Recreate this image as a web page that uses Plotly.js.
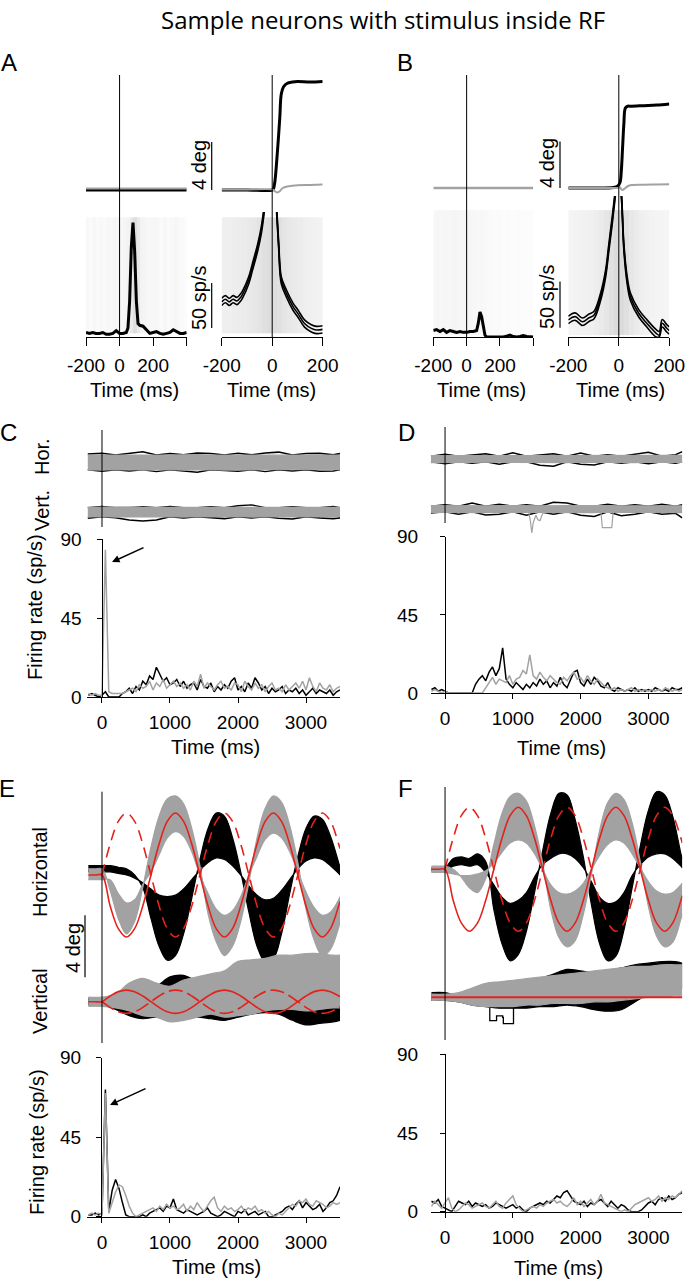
<!DOCTYPE html>
<html><head><meta charset="utf-8">
<script src="https://cdn.plot.ly/plotly-3.0.1.min.js"></script>
<style>html,body{margin:0;padding:0;background:#fff}#chart{width:687px;height:1280px}</style>
</head><body><div id="chart"></div>
<script>
// ---------------- DATA ----------------
// Panels A/B: peri-saccadic eye position (deg) and PSTH (sp/s)
const tEyeAL = [-200, 400];
const blackEyeAL = [0, 0];
const grayEyeAL = [0.12, 0.12];
const tEyeAR = [-200,-100,0,5,10,20,30,36,45,60,80,100,150,200];
const blackEyeAR = [0,0,0,0.1,0.6,3.0,6.0,8.0,8.6,8.9,9.0,9.05,9.0,9.05];
const grayEyeAR = [0.05,0.05,0.05,0,-0.1,-0.2,-0.1,0.05,0.2,0.3,0.35,0.4,0.42,0.45];
const tEyeBL = [-200, 400];
const grayEyeBL = [0, 0];
const tEyeBR = [-200,-100,-20,-5,5,10,15,20,26,35,50,100,150,200];
const blackEyeBR = [0,0,0.05,0.15,0.5,1.5,3.5,5.5,6.9,7.05,7.05,7.1,7.15,7.25];
const grayEyeBR = [0,0,0,0,0.05,-0.1,-0.17,-0.1,0,0.15,0.25,0.28,0.3,0.32];

const tAL = [-200,-180,-160,-140,-120,-100,-80,-60,-40,-20,0,20,40,50,60,70,80,90,100,110,120,140,160,180,200,220,240,260,280,300,320,340,360,380,400];
const rateAL = [5,4,5,4,4,5,3,3,4,7,4,4,5,10,40,100,127,95,40,15,13,12,8,4,5,6,4,3,4,5,8,6,4,4,5];
const tAR = [-200,-185,-170,-155,-140,-125,-118,-93,-78,-57,-43,-33,-20,0,10,18,26,36,56,82,102,128,155,175,200];
const rateAR = [39,42,39,42,40,44,47,63,78,100,119,139,175,210,180,139,100,63,48.5,34,26,15,9.6,7.8,8.5];
const rateARhi = [43,46,43,46,44,48,51,67,82,104,123,143,179,214,184,143,104,67,52.5,38,30,19,13.6,11.8,12.5];
const rateARlo = [35,38,35,38,36,40,43,59,74,96,115,135,171,206,176,135,96,59,44.5,30,22,11,5.6,3.8,4.5];
const tBL = [-200,-180,-160,-140,-120,-100,-80,-60,-40,-20,0,20,40,60,70,80,90,100,110,120,140,160,180,200,220,240,260,280,300,320,340,360,380,400];
const rateBL = [7,8,6,8,5,7,6,5,6,5,5,6,6,7,15,27,22,10,2,0,0,0,0,0.5,0,1,2,0.5,0,0.5,1.5,0.5,0,0];
const tBR = [-200,-173,-144,-118,-98,-72,-52,-39,-26,-16,0,11,20,33,46,79,111,148,160,172,190,200];
const rateBR = [18.4,22,16.5,20.8,23.8,43.5,68.8,97.5,126,150,185,150,97.5,61.6,43.5,25.6,14.8,4,2,14.8,9.4,7];
const rateBRhi = [22.4,26,20.5,24.8,27.8,47.5,72.8,101.5,130,154,189,154,101.5,65.6,47.5,29.6,18.8,8,6,18.8,13.4,11];
const rateBRlo = [14.4,18,12.5,16.8,19.8,39.5,64.8,93.5,122,146,181,146,93.5,57.6,39.5,21.6,10.8,0,0,10.8,5.4,3];

// raster density (spike dots) per 20 ms bin
const rasterEdgesLong = [-200,-180,-160,-140,-120,-100,-80,-60,-40,-20,0,20,40,60,80,100,120,140,160,180,200,220,240,260,280,300,320,340,360,380,400];
const rasterEdgesShort = [-200,-180,-160,-140,-120,-100,-80,-60,-40,-20,0,20,40,60,80,100,120,140,160,180,200];
const rasterRowsA = [4.4, 133];
const rasterRowsB = [2.2, 137];
const rasterAL = [0.12,0.1,0.14,0.1,0.12,0.1,0.14,0.12,0.16,0.14,0.14,0.18,0.22,0.4,0.6,0.4,0.22,0.18,0.14,0.14,0.16,0.12,0.1,0.14,0.1,0.12,0.16,0.12,0.1,0.08];
const rasterAR = [0.3,0.3,0.32,0.34,0.36,0.4,0.44,0.5,0.56,0.62,0.62,0.56,0.48,0.42,0.38,0.34,0.3,0.28,0.26,0.24];
const rasterBL = [0.14,0.16,0.14,0.16,0.14,0.16,0.18,0.16,0.14,0.16,0.18,0.16,0.14,0.12,0.14,0.12,0.1,0.1,0.08,0.1,0.08,0.06,0.08,0.06,0.06,0.08,0.06,0.06,0.05,0.05];
const rasterBR = [0.2,0.22,0.24,0.26,0.28,0.32,0.38,0.46,0.56,0.66,0.66,0.56,0.44,0.36,0.3,0.26,0.22,0.2,0.2,0.18];

// Panels C/D: fixation eye traces (deg, around each trace's mean)
const tCD = [-210,0,200,400,600,800,1000,1200,1400,1600,1800,2000,2200,2400,2600,2800,3000,3200,3400,3500];
const grayUpCH = [0.45,0.46,0.45,0.47,0.45,0.44,0.46,0.45,0.47,0.45,0.44,0.45,0.46,0.45,0.44,0.45,0.46,0.45,0.44,0.45];
const grayLoCH = [-0.52,-0.5,-0.52,-0.5,-0.52,-0.5,-0.5,-0.52,-0.5,-0.5,-0.52,-0.5,-0.52,-0.5,-0.5,-0.52,-0.5,-0.5,-0.52,-0.5];
const blackUpCH = [0.52,0.56,0.45,0.56,0.66,0.45,0.55,0.46,0.58,0.55,0.45,0.56,0.46,0.58,0.64,0.45,0.55,0.56,0.46,0.54];
const blackLoCH = [-0.5,-0.6,-0.5,-0.58,-0.5,-0.62,-0.5,-0.58,-0.66,-0.5,-0.57,-0.6,-0.5,-0.62,-0.5,-0.58,-0.5,-0.6,-0.58,-0.5];
const grayUpCV = [0.3,0.32,0.3,0.33,0.3,0.3,0.32,0.3,0.33,0.3,0.3,0.32,0.3,0.3,0.33,0.3,0.32,0.3,0.3,0.3];
const grayLoCV = [-0.32,-0.3,-0.33,-0.3,-0.32,-0.3,-0.3,-0.33,-0.3,-0.32,-0.3,-0.3,-0.33,-0.3,-0.3,-0.32,-0.3,-0.3,-0.33,-0.3];
const blackUpCV = [0.28,0.36,0.28,0.28,0.35,0.28,0.36,0.28,0.28,0.34,0.28,0.4,0.46,0.28,0.28,0.35,0.28,0.28,0.36,0.28];
const blackLoCV = [-0.4,-0.3,-0.37,-0.52,-0.58,-0.52,-0.3,-0.38,-0.3,-0.37,-0.43,-0.3,-0.38,-0.3,-0.4,-0.45,-0.3,-0.38,-0.44,-0.38];
const grayUpDH = [0.22,0.22,0.21,0.23,0.22,0.21,0.22,0.21,0.23,0.22,0.21,0.22,0.21,0.23,0.22,0.21,0.22,0.21,0.22,0.23];
const grayLoDH = [-0.23,-0.22,-0.21,-0.23,-0.22,-0.21,-0.22,-0.23,-0.21,-0.22,-0.23,-0.21,-0.22,-0.21,-0.22,-0.23,-0.21,-0.22,-0.21,-0.22];
const blackUpDH = [0.18,0.3,0.18,0.28,0.34,0.18,0.4,0.18,0.28,0.34,0.18,0.38,0.18,0.28,0.18,0.3,0.44,0.18,0.28,0.48];
const blackLoDH = [-0.18,-0.3,-0.18,-0.28,-0.18,-0.34,-0.18,-0.18,-0.4,-0.46,-0.18,-0.34,-0.38,-0.18,-0.28,-0.18,-0.3,-0.18,-0.28,-0.18];
const grayUpDV = [0.22,0.21,0.22,0.23,0.21,0.22,0.21,0.23,0.22,0.21,0.22,0.23,0.21,0.22,0.21,0.22,0.23,0.21,0.22,0.21];
const grayLoDV = [-0.22,-0.23,-0.21,-0.22,-0.23,-0.21,-0.22,-0.21,-0.23,-0.22,-0.21,-0.22,-0.23,-0.21,-0.22,-0.21,-0.23,-0.22,-0.21,-0.23];
const blackUpDV = [0.18,0.28,0.18,0.38,0.18,0.3,0.18,0.28,0.18,0.43,0.38,0.18,0.18,0.3,0.18,0.28,0.18,0.3,0.18,0.28];
const blackLoDV = [-0.26,-0.18,-0.34,-0.18,-0.38,-0.34,-0.18,-0.4,-0.18,-0.34,-0.18,-0.4,-0.48,-0.18,-0.44,-0.34,-0.18,-0.34,-0.28,-0.58];
const tDipD = [1230,1260,1280,1300,1340,1370,1400,1430,1470,1850,2250,2300,2320,2460,2480,2530];
const vDipD = [-0.1,-0.8,-1.55,-0.9,-0.4,-0.7,-0.75,-0.4,-0.1,null,-0.1,-0.2,-1.2,-1.2,-0.2,-0.1];

// Firing rates (sp/s), 50 ms bins
const tFR = [-200,-150,-100,-50,0,50,100,150,200,250,300,350,400,450,500,550,600,650,700,750,800,850,900,950,1000,1050,1100,1150,1200,1250,1300,1350,1400,1450,1500,1550,1600,1650,1700,1750,1800,1850,1900,1950,2000,2050,2100,2150,2200,2250,2300,2350,2400,2450,2500,2550,2600,2650,2700,2750,2800,2850,2900,2950,3000,3050,3100,3150,3200,3250,3300,3350,3400,3450,3500];
const frCblack = [1,2,1,0,1,3,0,0,0,0, 2,3,5,2,6,4,9,7,12,10, 17,13,9,11,7,8,10,6,9,5, 7,8,4,10,6,5,8,3,6,4, 7,5,9,11,4,6,3,8,5,11, 8,4,6,2,5,3,4,6,2,4, 3,5,2,4,1,3,5,2,4,3, 2,4,1,3,4];
const frCgray = [2,1,2,1,1,84,3,2,2,2, 2,3,4,5,3,7,5,6,9,4, 8,6,10,5,7,9,6,8,5,7, 4,9,6,13,5,8,6,4,7,9, 5,6,4,8,7,3,9,6,4,8, 5,7,3,6,8,4,5,3,7,4, 6,8,5,9,4,11,6,3,8,5, 4,7,3,5,6];
const frDblack = [2,3,1,2,1,0,0,0,0,0, 0,0,0,5,8,10,7,12,15,10, 14,26,8,5,3,6,4,2,5,3, 6,4,8,5,7,3,6,4,9,5, 3,8,12,13,6,4,8,5,9,7, 4,3,6,2,1,3,2,1,2,1, 3,1,2,1,2,1,3,2,1,2, 1,3,2,2,3];
const frDgray = [1,2,1,0,1,0,0,0,0,0, 0,0,0,0,0,0,3,6,9,5, 8,7,6,10,5,8,9,13,11,22, 10,8,12,9,7,10,8,6,5,9, 7,10,12,8,9,6,10,7,5,8, 6,4,3,2,3,1,2,1,2,3, 1,2,1,2,1,2,1,2,1,3, 2,1,2,1,2];
const frEblack = [1,1,2,1,2,72,3,15,21,16, 8,1,0,0,0,0,1,0,2,3, 4,5,3,6,5,10,4,3,2,4, 3,2,1,2,3,5,2,1,0,1, 3,2,1,0,3,2,4,1,2,3, 1,2,3,0,0,1,2,3,5,6, 4,7,9,5,8,6,4,5,7,3, 5,8,9,12,17];
const frEgray = [1,2,1,2,1,70,2,8,14,18, 17,12,6,2,0,1,2,3,4,5, 3,6,4,7,5,6,4,5,7,3, 6,4,8,5,3,6,9,11,5,3, 6,4,5,3,4,6,3,5,4,6, 3,4,2,3,1,0,2,1,3,5, 7,6,9,8,10,7,6,9,8,7, 5,6,8,7,8];
const frFblack = [6,5,7,3,2,1,0,3,6,5, 4,6,3,5,4,3,4,2,3,5, 4,3,2,3,4,2,3,1,0,2, 3,4,5,4,6,5,7,9,8,11, 12,9,6,5,4,6,3,5,4,6, 7,5,3,6,4,2,4,3,1,0, 0,0,1,3,5,6,4,7,8,6, 9,7,8,10,11];
const frFgray = [3,6,4,2,5,8,2,0,1,3, 5,4,2,3,4,5,3,2,4,6, 3,2,5,7,9,4,2,0,1,2, 3,2,4,3,5,6,7,5,6,4, 3,5,8,4,6,3,5,7,4,6, 10,5,4,3,2,1,0,1,0,2, 4,5,6,7,8,6,7,9,6,8, 7,9,8,10,12];

// Panels E/F: pursuit eye traces (deg)
const tEye = [-200,-100,0,120,240,360,480,600,720,840,960,1080,1200,1320,1440,1560,1680,1800,1920,2040,2160,2280,2400,2520,2640,2760,2880,3000,3120,3240,3360,3480,3500];
const targetSolidH = [0,0,0,-2,-3.46,-4,-3.46,-2,0,2,3.46,4,3.46,2,0,-2,-3.46,-4,-3.46,-2,0,2,3.46,4,3.46,2,0,-2,-3.46,-4,-3.46,-2,-1.7];
const targetDashH = [null,null,0,2,3.46,4,3.46,2,0,-2,-3.46,-4,-3.46,-2,0,2,3.46,4,3.46,2,0,-2,-3.46,-4,-3.46,-2,0,2,3.46,4,3.46,2,1.7];
const targetSolidV = [0,0,0,0.37,0.65,0.75,0.65,0.37,0,-0.37,-0.65,-0.75,-0.65,-0.37,0,0.37,0.65,0.75,0.65,0.37,0,-0.37,-0.65,-0.75,-0.65,-0.37,0,0.37,0.65,0.75,0.65,0.37,0.32];
const targetDashV = [null,null,0,-0.37,-0.65,-0.75,-0.65,-0.37,0,0.37,0.65,0.75,0.65,0.37,0,-0.37,-0.65,-0.75,-0.65,-0.37,0,0.37,0.65,0.75,0.65,0.37,0,-0.37,-0.65,-0.75,-0.65,-0.37,-0.32];
const tTargetFlat = [-200, 3500];
const targetFlatV = [0, 0];
const grayOuterEH = [0.4,0.4,0.4,-1.0,-2.8,-3.8,-3.0,-0.8,1.8,3.8,4.9,5.1,4.6,3.0,0.6,-2.5,-4.3,-5.2,-4.6,-3.0,-0.5,2.4,4.3,5.1,4.7,3.2,0.8,-2.2,-4.2,-5.2,-4.8,-3.4,-3.1];
const grayInnerEH = [-0.3,-0.3,-0.3,-0.3,-1.2,-1.8,-1.6,-0.6,0.2,1.3,2.4,2.8,2.5,1.5,0,-1.2,-2.2,-2.6,-2.3,-1.4,0,1.2,2.3,2.7,2.4,1.5,0.2,-1.1,-2.1,-2.6,-2.4,-1.6,-1.4];
const blackOuterEH = [0.6,0.6,0.6,0.6,0.5,0.4,0,-0.8,-2.8,-4.6,-5.5,-5.2,-3.8,-1.5,1.0,3.0,4.0,3.8,2.4,0.2,-2.4,-4.6,-5.6,-5.4,-3.8,-1.2,1.2,3.0,3.8,3.6,2.5,0.8,0.5];
const blackInnerEH = [0.2,0.2,0.2,0.2,0.1,0,-0.2,-0.5,-0.9,-1.3,-1.4,-1.3,-0.9,-0.3,0.3,0.8,1.1,1.0,0.6,0,-0.7,-1.3,-1.6,-1.5,-1.0,-0.3,0.4,0.9,1.1,1.0,0.6,0.1,0];
const grayOuterFH = [0.2,0.2,0.2,0,-0.5,-1.2,-1.5,-0.6,1.6,3.6,4.7,4.9,4.4,2.8,0.4,-2.6,-4.4,-5.0,-4.6,-2.9,-0.3,2.5,4.3,4.9,4.5,3.0,0.5,-2.4,-4.3,-5.0,-4.7,-3.2,-2.9];
const grayInnerFH = [-0.2,-0.2,-0.2,-0.3,-0.4,-0.4,-0.3,-0.1,0.4,1.1,1.7,1.9,1.7,1.0,0,-1.0,-1.5,-1.6,-1.4,-0.9,0,0.9,1.6,1.9,1.7,1.0,0.1,-0.8,-1.4,-1.6,-1.5,-1.0,-0.9];
const blackOuterFH = [0.1,0.1,0.1,0.7,0.8,0.7,1.0,0.5,-2.6,-4.8,-5.9,-5.5,-4.0,-1.5,1.2,3.6,4.9,4.8,3.2,0.8,-2.3,-4.8,-5.9,-5.6,-3.9,-1.2,1.5,3.8,5.0,4.8,3.4,1.0,0.7];
const blackInnerFH = [-0.1,-0.1,-0.1,0.2,0.3,0.2,0.3,-0.2,-1.0,-1.8,-2.2,-2.0,-1.5,-0.5,0.3,0.7,1.0,1.0,0.7,0.1,-0.8,-1.8,-2.2,-2.1,-1.5,-0.4,0.3,0.8,1.0,1.0,0.7,0.2,0.1];
const tV = [-200,0,200,400,600,800,1000,1200,1400,1600,1800,2000,2200,2400,2600,2800,3000,3200,3400,3500];
const grayUpEV = [0.3,0.3,0.5,1.2,1.5,1.2,1.0,1.4,1.6,1.8,2.0,2.6,2.7,2.8,3.0,3.0,3.1,3.1,3.0,3.0];
const grayLoEV = [-0.3,-0.3,-0.4,-0.6,-0.9,-1.0,-1.3,-1.2,-1.0,-0.8,-1.0,-0.9,-0.8,-0.6,-0.5,-0.5,-0.6,-0.5,-0.4,-0.4];
const blackUpEV = [0.2,0.2,0.3,0.5,0.8,1.0,1.6,1.7,1.3,1.0,1.5,2.3,2.6,2.2,1.0,0.4,0.2,0,0.2,0.3];
const blackLoEV = [-0.2,-0.2,-0.5,-0.9,-1.1,-1.0,-1.2,-1.1,-1.0,-1.1,-1.2,-1.0,-0.8,-0.7,-0.8,-1.2,-1.5,-1.4,-1.3,-1.2];
const grayUpFV = [0.2,0.2,0.3,0.6,0.9,1.0,1.1,1.2,1.3,1.4,1.5,1.6,1.7,1.8,1.9,2.0,2.0,2.1,2.1,2.1];
const grayLoFV = [-0.2,-0.2,-0.3,-0.5,-0.6,-0.6,-0.6,-0.5,-0.5,-0.4,-0.4,-0.4,-0.3,-0.3,-0.2,-0.1,0,0,0.1,0.1];
const blackUpFV = [0.3,0.3,0.1,0.3,0.5,0.6,0.8,1.0,1.2,1.5,1.8,1.7,1.6,1.7,1.9,2.1,2.2,2.3,2.3,2.2];
const blackLoFV = [-0.2,-0.2,-0.3,-0.5,-0.6,-0.7,-0.7,-0.7,-0.6,-0.6,-0.5,-0.6,-0.8,-0.9,-0.8,-0.3,0.2,0.5,0.6,0.6];
const tBoxF = [600,650,660,750,760,800,850,860,1000,1010,1050];
const vBoxF = [-0.4,-0.5,-1.5,-1.5,-1.2,-1.2,-1.3,-1.7,-1.7,-0.6,-0.4];

// ---------------- STYLE / LAYOUT HELPERS ----------------
const W = 687, H = 1280;
const FONT = 'Liberation Sans, Arial, sans-serif';
const BLACK = '#000000', GRAY = '#a2a2a2', RED = '#e3221c';
const PPD = 15.5; // pixels per degree in panels C-F
const dx = (a, b) => [a / W, b / W];
const dy = (t, b) => [1 - b / H, 1 - t / H];
const eyeRange = (t, b, c) => [-(b - c) / PPD, (c - t) / PPD];

const traces = [];
function ln(x, y, xa, ya, color, width, extra) {
  const tr = {type: 'scatter', mode: 'lines', x: x, y: y, xaxis: xa, yaxis: ya,
    line: Object.assign({color: color, width: width}, (extra && extra.line) || {}),
    hoverinfo: 'skip', showlegend: false};
  if (extra && extra.fill) { tr.fill = extra.fill; tr.fillcolor = extra.fillcolor; }
  traces.push(tr);
}
function band(x, up, lo, xa, ya, color, shape) {
  ln(x, up, xa, ya, color, 1.2, {line: {shape: shape}});
  ln(x, lo, xa, ya, color, 1.2, {line: {shape: shape}, fill: 'tonexty', fillcolor: color});
}
function raster(edges, rows, z, xa, ya) {
  traces.push({type: 'heatmap', x: edges, y: rows, z: [z], xaxis: xa, yaxis: ya,
    colorscale: [[0, '#ffffff'], [1, '#c8c8c8']], zmin: 0, zmax: 1, showscale: false, hoverinfo: 'skip'});
}

// A
raster(rasterEdgesLong, rasterRowsA, rasterAL, 'x', 'y2');
raster(rasterEdgesShort, rasterRowsA, rasterAR, 'x2', 'y4');
ln(tEyeAL, blackEyeAL, 'x', 'y', BLACK, 3);
ln(tEyeAL, grayEyeAL, 'x', 'y', GRAY, 2);
ln(tEyeAR, blackEyeAR, 'x2', 'y3', BLACK, 3, {line: {shape: 'spline'}});
ln(tEyeAR, grayEyeAR, 'x2', 'y3', GRAY, 2, {line: {shape: 'spline'}});
ln(tAL, rateAL, 'x', 'y2', BLACK, 3);
ln(tAR, rateARhi, 'x2', 'y4', BLACK, 1.6, {line: {shape: 'spline'}});
ln(tAR, rateAR, 'x2', 'y4', BLACK, 1.6, {line: {shape: 'spline'}});
ln(tAR, rateARlo, 'x2', 'y4', BLACK, 1.6, {line: {shape: 'spline'}});
// B
raster(rasterEdgesLong, rasterRowsB, rasterBL, 'x3', 'y6');
raster(rasterEdgesShort, rasterRowsB, rasterBR, 'x4', 'y8');
ln(tEyeBL, grayEyeBL, 'x3', 'y5', GRAY, 2.5);
ln(tEyeBR, blackEyeBR, 'x4', 'y7', BLACK, 3, {line: {shape: 'spline'}});
ln(tEyeBR, grayEyeBR, 'x4', 'y7', GRAY, 2, {line: {shape: 'spline'}});
ln(tBL, rateBL, 'x3', 'y6', BLACK, 3);
ln(tBR, rateBRhi, 'x4', 'y8', BLACK, 1.6, {line: {shape: 'spline'}});
ln(tBR, rateBR, 'x4', 'y8', BLACK, 1.6, {line: {shape: 'spline'}});
ln(tBR, rateBRlo, 'x4', 'y8', BLACK, 1.6, {line: {shape: 'spline'}});
// C (black traces underneath the grey bundle, poking out at the edges)
ln(tCD, blackUpCH, 'x5', 'y9', BLACK, 1.6);
ln(tCD, blackLoCH, 'x5', 'y9', BLACK, 1.4);
band(tCD, grayUpCH, grayLoCH, 'x5', 'y9', GRAY, 'linear');
ln(tCD, blackUpCV, 'x5', 'y10', BLACK, 1.4);
ln(tCD, blackLoCV, 'x5', 'y10', BLACK, 1.6);
band(tCD, grayUpCV, grayLoCV, 'x5', 'y10', GRAY, 'linear');
ln(tFR, frCblack, 'x5', 'y11', BLACK, 1.5);
ln(tFR, frCgray, 'x5', 'y11', GRAY, 1.5);
// D
ln(tCD, blackUpDH, 'x6', 'y12', BLACK, 1.5);
ln(tCD, blackLoDH, 'x6', 'y12', BLACK, 1.5);
band(tCD, grayUpDH, grayLoDH, 'x6', 'y12', GRAY, 'linear');
ln(tCD, blackUpDV, 'x6', 'y13', BLACK, 1.5);
ln(tCD, blackLoDV, 'x6', 'y13', BLACK, 1.5);
band(tCD, grayUpDV, grayLoDV, 'x6', 'y13', GRAY, 'linear');
ln(tDipD, vDipD, 'x6', 'y13', GRAY, 1.2);
ln(tFR, frDblack, 'x6', 'y14', BLACK, 1.5);
ln(tFR, frDgray, 'x6', 'y14', GRAY, 1.5);
// E
band(tEye, blackOuterEH, blackInnerEH, 'x7', 'y15', BLACK, 'spline');
band(tEye, grayOuterEH, grayInnerEH, 'x7', 'y15', GRAY, 'spline');
ln(tEye, targetSolidH, 'x7', 'y15', RED, 1.6, {line: {shape: 'spline'}});
ln(tEye, targetDashH, 'x7', 'y15', RED, 1.6, {line: {shape: 'spline', dash: '11px,7px'}});
band(tV, blackUpEV, blackLoEV, 'x7', 'y16', BLACK, 'spline');
band(tV, grayUpEV, grayLoEV, 'x7', 'y16', GRAY, 'spline');
ln(tEye, targetSolidV, 'x7', 'y16', RED, 1.6, {line: {shape: 'spline'}});
ln(tEye, targetDashV, 'x7', 'y16', RED, 1.6, {line: {shape: 'spline', dash: '14px,5px'}});
ln(tFR, frEblack, 'x7', 'y17', BLACK, 1.5);
ln(tFR, frEgray, 'x7', 'y17', GRAY, 1.5);
// F
band(tEye, blackOuterFH, blackInnerFH, 'x8', 'y18', BLACK, 'spline');
band(tEye, grayOuterFH, grayInnerFH, 'x8', 'y18', GRAY, 'spline');
ln(tEye, targetSolidH, 'x8', 'y18', RED, 1.6, {line: {shape: 'spline'}});
ln(tEye, targetDashH, 'x8', 'y18', RED, 1.6, {line: {shape: 'spline', dash: '11px,7px'}});
band(tV, blackUpFV, blackLoFV, 'x8', 'y19', BLACK, 'spline');
ln(tBoxF, vBoxF, 'x8', 'y19', BLACK, 1.3, {line: {shape: 'hv'}});
band(tV, grayUpFV, grayLoFV, 'x8', 'y19', GRAY, 'spline');
ln(tTargetFlat, targetFlatV, 'x8', 'y19', RED, 2);
ln(tFR, frFblack, 'x8', 'y20', BLACK, 1.5);
ln(tFR, frFgray, 'x8', 'y20', GRAY, 1.5);

// ---------------- AXES ----------------
const tickFont = {family: FONT, size: 19, color: '#000'};
function xAx(dom, range, anchor, vals, txt, len) {
  return {domain: dom, range: range, anchor: anchor, showline: true, linecolor: '#000', linewidth: 1,
    ticks: 'outside', ticklen: len, tickwidth: 1, tickcolor: '#000', tickvals: vals, ticktext: txt,
    tickfont: tickFont, showgrid: false, zeroline: false, fixedrange: true, ticklabelstandoff: 3};
}
function hid(dom, range, anchor) {
  return {domain: dom, range: range, anchor: anchor, visible: false, fixedrange: true};
}
function frAx(dom, posPx, standoff) {
  return {domain: dom, range: [0, 90], anchor: 'free', position: posPx / W, showline: true,
    linecolor: '#000', linewidth: 1, ticks: 'outside', ticklen: 5, tickcolor: '#000',
    tickvals: [0, 45, 90], tickfont: tickFont, showgrid: false, zeroline: false,
    fixedrange: true, ticklabelstandoff: standoff};
}
const longVals = [-200, 0, 200, 400], longTxt = ['-200', '0', '200', ''];
const shortVals = [-200, 0, 200], shortTxt = ['-200', '0', '200'];
const frVals = [0, 1000, 2000, 3000], frTxt = ['0', '1000', '2000', '3000'];
const psthA = [0, 125 / 0.9], psthB = [0, 141 / 0.926];
const eyeA = [-10 / 12, 115 / 12], eyeB = [-12 / 11.6, 113 / 11.6];

const layout = {
  width: W, height: H, margin: {l: 0, r: 0, t: 0, b: 0}, paper_bgcolor: '#fff', plot_bgcolor: 'rgba(0,0,0,0)',
  showlegend: false, font: {family: FONT, color: '#000'},
  xaxis: xAx(dx(86, 186.7), [-200, 400], 'y2', longVals, longTxt, 8),
  yaxis: hid(dy(75, 200), eyeA, 'x'),
  yaxis2: hid(dy(212, 337), psthA, 'x'),
  xaxis2: xAx(dx(221.7, 322.7), [-200, 200], 'y4', shortVals, shortTxt, 8),
  yaxis3: hid(dy(75, 200), eyeA, 'x2'),
  yaxis4: hid(dy(212, 337), psthA, 'x2'),
  xaxis3: xAx(dx(433.3, 533.3), [-200, 400], 'y6', longVals, longTxt, 8),
  yaxis5: hid(dy(75, 200), eyeB, 'x3'),
  yaxis6: hid(dy(196, 337), psthB, 'x3'),
  xaxis4: xAx(dx(568.3, 669.3), [-200, 200], 'y8', shortVals, shortTxt, 8),
  yaxis7: hid(dy(75, 200), eyeB, 'x4'),
  yaxis8: hid(dy(196, 337), psthB, 'x4'),
  xaxis5: xAx(dx(87.3, 340), [-216, 3500], 'y11', frVals, frTxt, 5),
  yaxis9: hid(dy(440, 485), eyeRange(440, 485, 462), 'x5'),
  yaxis10: hid(dy(495, 527), eyeRange(495, 527, 512), 'x5'),
  yaxis11: frAx(dy(539.3, 697), 101.5, 11),
  xaxis6: xAx(dx(430.8, 682.3), [-210, 3500], 'y14', frVals, frTxt, 5),
  yaxis12: hid(dy(440, 480), eyeRange(440, 480, 459), 'x6'),
  yaxis13: hid(dy(490, 540), eyeRange(490, 540, 509), 'x6'),
  yaxis14: frAx(dy(536.7, 693), 445, 18),
  xaxis7: xAx(dx(87.3, 340), [-216, 3500], 'y17', frVals, frTxt, 5),
  yaxis15: hid(dy(780, 985), eyeRange(780, 985, 875), 'x7'),
  yaxis16: hid(dy(940, 1043), eyeRange(940, 1043, 1001.7), 'x7'),
  yaxis17: frAx(dy(1057.7, 1216.7), 101, 11),
  xaxis8: xAx(dx(430.8, 682.3), [-210, 3500], 'y20', frVals, frTxt, 5),
  yaxis18: hid(dy(780, 975), eyeRange(780, 975, 869.3), 'x8'),
  yaxis19: hid(dy(940, 1040), eyeRange(940, 1040, 997.3), 'x8'),
  yaxis20: frAx(dy(1054.3, 1211.7), 445, 18)
};

// ---------------- SHAPES (t=0 markers, scale bars) ----------------
const vline = (xa, top, bot) => ({type: 'line', xref: xa, yref: 'paper', x0: 0, x1: 0,
  y0: 1 - bot / H, y1: 1 - top / H, line: {color: '#000', width: 1}});
const sbar = (xPx, yref, y0, y1) => ({type: 'line', xref: 'paper', yref: yref, x0: xPx / W, x1: xPx / W,
  y0: y0, y1: y1, line: {color: '#000', width: 1.2}});
layout.shapes = [
  vline('x', 75, 337), vline('x2', 75, 337), vline('x3', 75, 337), vline('x4', 75, 337),
  vline('x5', 430, 527), vline('x6', 427, 523), vline('x7', 791.7, 1043), vline('x8', 787, 1040),
  sbar(211.7, 'y', 0, 4), sbar(211.7, 'y2', 10, 60),
  sbar(560, 'y5', 0, 4), sbar(560, 'y6', 10, 60),
  sbar(85, 'y15', -2.6, -6.6)
];

// ---------------- TEXT ----------------
function ann(text, xPx, yPx, size, angle, family) {
  return {text: text, x: xPx / W, y: 1 - yPx / H, xref: 'paper', yref: 'paper', showarrow: false,
    xanchor: 'center', yanchor: 'middle', textangle: angle || 0,
    font: {family: family || FONT, size: size, color: '#000'}};
}
function arrow(hx, hy, tx, ty) {
  return {text: '', x: hx / W, y: 1 - hy / H, xref: 'paper', yref: 'paper', showarrow: true,
    ax: tx - hx, ay: ty - hy, arrowhead: 2, arrowsize: 1, arrowwidth: 1.5, arrowcolor: '#000', standoff: 0};
}
layout.annotations = [
  ann('Sample neurons with stimulus inside RF', 383, 19, 24, 0, 'Open Sans, sans-serif'),
  ann('A', 9, 63, 24), ann('B', 405, 63, 24), ann('C', 8, 432, 24), ann('D', 406, 432, 24),
  ann('E', 7, 788, 24), ann('F', 405, 788, 24),
  ann('Time (ms)', 134, 390, 20), ann('Time (ms)', 271, 390, 20),
  ann('Time (ms)', 481, 390, 20), ann('Time (ms)', 620, 390, 20),
  ann('Time (ms)', 215, 747, 20), ann('Time (ms)', 561, 748, 20),
  ann('Time (ms)', 216, 1267, 20), ann('Time (ms)', 558, 1268, 20),
  ann('4 deg', 199, 165, 20, -90), ann('50 sp/s', 199, 298, 20, -90),
  ann('4 deg', 547, 163, 20, -90), ann('50 sp/s', 547, 297, 20, -90),
  ann('Hor.', 42, 457, 20, -90), ann('Vert.', 42, 511, 20, -90),
  ann('Firing rate (sp/s)', 35, 607, 20, -90),
  ann('Horizontal', 40, 872, 20, -90), ann('Vertical', 40, 1001, 20, -90), ann('4 deg', 73, 948, 20, -90),
  ann('Firing rate (sp/s)', 37, 1142, 20, -90),
  arrow(112, 562, 145, 547), arrow(110, 1105, 147, 1088)
];

Plotly.newPlot('chart', traces, layout, {staticPlot: true, displayModeBar: false});
</script></body></html>
